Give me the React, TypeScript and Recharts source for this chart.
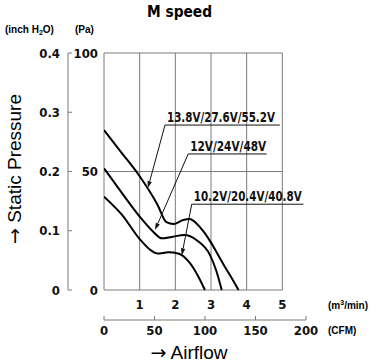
import { LineChart, Line, XAxis, YAxis, ReferenceLine } from "recharts"

// airflow in m³/min, static pressure in Pa
const high138 = [
  { q: 0, p: 67.5 }, { q: 0.5, p: 57.8 }, { q: 1.0, p: 48 }, { q: 1.5, p: 36 },
  { q: 1.75, p: 28.6 }, { q: 1.95, p: 27.8 }, { q: 2.2, p: 29.4 }, { q: 2.4, p: 30 },
  { q: 2.6, p: 28 }, { q: 2.8, p: 24.5 }, { q: 3.0, p: 20 }, { q: 3.2, p: 14.8 },
  { q: 3.4, p: 9.5 }, { q: 3.6, p: 4.5 }, { q: 3.77, p: 0 },
]
const rated12 = [
  { q: 0, p: 51.3 }, { q: 0.5, p: 41 }, { q: 1.0, p: 31 }, { q: 1.38, p: 24.6 },
  { q: 1.62, p: 21.8 }, { q: 1.9, p: 22.4 }, { q: 2.25, p: 23.2 }, { q: 2.6, p: 21 },
  { q: 2.97, p: 14.8 }, { q: 3.15, p: 8 }, { q: 3.3, p: 0 },
]
const low102 = [
  { q: 0, p: 39.4 }, { q: 0.5, p: 31.8 }, { q: 1.0, p: 21.5 }, { q: 1.3, p: 16.9 },
  { q: 1.5, p: 15.4 }, { q: 1.8, p: 15.9 }, { q: 2.1, p: 15.3 }, { q: 2.4, p: 11.5 },
  { q: 2.65, p: 5.5 }, { q: 2.83, p: 0 },
]
// extent of the secondary scales (CFM / inch H2O), keeps those axes alive
const secondaryExtent = [{ cfm: 0, inch: 0 }, { cfm: 200, inch: 0.4 }]

const flowTicks = [1, 2, 3, 4, 5]
const cfmTicks = [0, 50, 100, 150, 200]
const paTicks = [0, 50, 100]
const inchTicks = [0, 0.1, 0.2, 0.3, 0.4]
const gridQ = [0, 1, 2, 3, 4, 5]
const gridPa = [0, 50, 100]

// callouts: label, underline (q from..to at pressure), arrow tip
const callouts = [
  { text: "13.8V/27.6V/55.2V", q1: 1.71, q2: 4.93, p: 69.6, tipQ: 1.23, tipP: 43, w: 108 },
  { text: "12V/24V/48V", q1: 2.36, q2: 4.56, p: 57.4, tipQ: 1.43, tipP: 25.3, w: 76 },
  { text: "10.2V/20.4V/40.8V", q1: 2.46, q2: 5.59, p: 36.2, tipQ: 2.18, tipP: 14.6, w: 108 },
]

const NARROW = "'DejaVu Sans Condensed', 'DejaVu Sans', sans-serif"
const SANS = "'Liberation Sans', Arial, sans-serif"
const tickStyle = { fontFamily: NARROW, fontStretch: "condensed", fontWeight: 700, fontSize: 13, fill: "#111" }
const GRID = "#7a7a7a"

const arrowShape = (p: any) => {
  const dx = p.x2 - p.x1
  const dy = p.y2 - p.y1
  const len = Math.hypot(dx, dy) || 1
  const ux = dx / len
  const uy = dy / len
  const bx = p.x2 - ux * 7
  const by = p.y2 - uy * 7
  return (
    <g>
      <line x1={p.x1} y1={p.y1} x2={bx} y2={by} stroke="#111" strokeWidth={1} />
      <polygon
        points={`${p.x2},${p.y2} ${bx - uy * 2.2},${by + ux * 2.2} ${bx + uy * 2.2},${by - ux * 2.2}`}
        fill="#111"
      />
    </g>
  )
}

const underline = (text: string, w: number) => (p: any) => (
  <g>
    <line x1={p.x1} y1={p.y1} x2={p.x2} y2={p.y2} stroke="#111" strokeWidth={1} />
    <text x={p.x1 + 2} y={p.y1 - 3} textLength={w} lengthAdjust="spacingAndGlyphs"
      style={{ ...tickStyle, fontSize: 13.5 }}>{text}</text>
  </g>
)

export default function App() {
  return (
    <div style={{ position: "relative", width: 381, height: 363 }}>
      <style>{"body{margin:0}"}</style>
      <LineChart width={381} height={363} margin={{ top: 53, right: 75, bottom: 23, left: 28 }}>
        <XAxis xAxisId="a_m3" type="number" dataKey="q" domain={[0, 200 / 35.3147]} ticks={flowTicks}
          axisLine={false} tickLine={false} tickSize={0} tickMargin={10} height={30} tick={tickStyle}
          allowDataOverflow />
        <XAxis xAxisId="b_cfm" type="number" dataKey="cfm" domain={[0, 200]} ticks={cfmTicks} tickSize={-4}
          tickMargin={10} height={20} tick={tickStyle} axisLine={{ stroke: GRID }} tickLine={{ stroke: GRID }} />
        <YAxis yAxisId="a_pa" type="number" domain={[0, 100]} ticks={paTicks} width={36}
          axisLine={false} tickLine={false} tickSize={0} tickMargin={6} tick={tickStyle} />
        <YAxis yAxisId="b_inch" type="number" dataKey="inch" domain={[0, 0.4]} ticks={inchTicks} width={40}
          tickSize={-4} tickMargin={12} tick={tickStyle} axisLine={{ stroke: GRID }} tickLine={{ stroke: GRID }}
          tickFormatter={(v) => (v === 0 ? "0" : v.toFixed(1))} />

        {gridQ.map((q) => (
          <ReferenceLine key={"v" + q} xAxisId="a_m3" yAxisId="a_pa" stroke={GRID} ifOverflow="visible"
            segment={[{ x: q, y: 0 }, { x: q, y: 100 }]} />
        ))}
        {gridPa.map((p) => (
          <ReferenceLine key={"h" + p} xAxisId="a_m3" yAxisId="a_pa" stroke={GRID} ifOverflow="visible"
            segment={[{ x: 0, y: p }, { x: 5, y: p }]} />
        ))}

        <Line xAxisId="a_m3" yAxisId="a_pa" data={high138} dataKey="p" type="monotone" stroke="#000"
          strokeWidth={2} dot={false} isAnimationActive={false} />
        <Line xAxisId="a_m3" yAxisId="a_pa" data={rated12} dataKey="p" type="monotone" stroke="#000"
          strokeWidth={2} dot={false} isAnimationActive={false} />
        <Line xAxisId="a_m3" yAxisId="a_pa" data={low102} dataKey="p" type="monotone" stroke="#000"
          strokeWidth={2} dot={false} isAnimationActive={false} />

        <Line xAxisId="b_cfm" yAxisId="b_inch" data={secondaryExtent} dataKey="inch" stroke="none"
          dot={false} activeDot={false} isAnimationActive={false} />

        {callouts.map((c) => (
          <ReferenceLine key={"u" + c.text} xAxisId="a_m3" yAxisId="a_pa" ifOverflow="visible"
            segment={[{ x: c.q1, y: c.p }, { x: c.q2, y: c.p }]} shape={underline(c.text, c.w)} />
        ))}
        {callouts.map((c) => (
          <ReferenceLine key={"a" + c.text} xAxisId="a_m3" yAxisId="a_pa" ifOverflow="visible"
            segment={[{ x: c.q1, y: c.p }, { x: c.tipQ, y: c.tipP }]} shape={arrowShape} />
        ))}
      </LineChart>

      <svg width={381} height={363} style={{ position: "absolute", left: 0, top: 0, pointerEvents: "none", overflow: "visible" }}>
        <text x={147} y={17} textLength={65} lengthAdjust="spacingAndGlyphs"
          style={{ fontFamily: NARROW, fontStretch: "condensed", fontWeight: 700, fontSize: 16.5 }}>M speed</text>
        <text x={5} y={33} style={{ fontFamily: SANS, fontWeight: 700, fontSize: 10 }}>
          (inch H<tspan fontSize={7} dy={2}>2</tspan><tspan dy={-2}>O)</tspan>
        </text>
        <text x={75} y={33} style={{ fontFamily: SANS, fontWeight: 700, fontSize: 10 }}>(Pa)</text>
        <text x={328} y={309} style={{ fontFamily: SANS, fontWeight: 700, fontSize: 10 }}>
          (m<tspan fontSize={7} dy={-4}>3</tspan><tspan dy={4}>/min)</tspan>
        </text>
        <text x={328} y={334} style={{ fontFamily: SANS, fontWeight: 700, fontSize: 10 }}>(CFM)</text>
        <text x={189} y={359} textAnchor="middle" style={{ fontFamily: SANS, fontSize: 19 }}>
          <tspan style={{ fontFamily: "'DejaVu Sans', sans-serif" }} fill="#000">→</tspan> Airflow
        </text>
        <text transform="translate(14,169) rotate(-90)" textAnchor="middle" dominantBaseline="central"
          style={{ fontFamily: SANS, fontSize: 19 }}>
          <tspan style={{ fontFamily: "'DejaVu Sans', sans-serif" }} fill="#000">→</tspan> Static Pressure
        </text>
      </svg>
    </div>
  )
}
